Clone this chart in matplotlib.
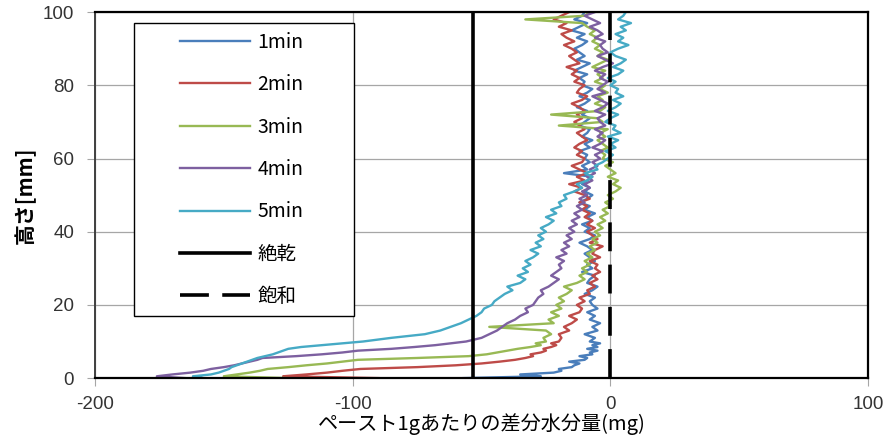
import matplotlib
matplotlib.use("Agg")
import matplotlib.pyplot as plt
from matplotlib.patches import Rectangle

plt.rcParams['font.family'] = ['Noto Sans CJK JP', 'DejaVu Sans']
plt.rcParams['axes.unicode_minus'] = False

# heights [mm]: 0.5 mm steps up to 10, then 1 mm steps
heights = [i * 0.5 for i in range(21)] + list(range(11, 101))

# difference in water content per 1 g of paste [mg]
min1 = [-57, -27, -35, -22, -19, -20, -15, -14, -12, -16, -10, -9, -12, -7, -8, -5, -9, -5, -7, -4, -8,
        -6, -10, -5, -7, -4, -8, -6, -9, -5, -7,
        -8, -6, -10, -7, -5, -9, -8, -6, -11, -7,
        -9, -6, -8, -10, -7, -9, -12, -8, -6, -10,
        -8, -11, -7, -9, -6, -10, -8, -12, -9, -7,
        -10, -8, -11, -9, -7, -18, -9, -11, -8, -10,
        -9, -12, -8, -10, -7, -11, -9, -8, -12, -10,
        -8, -11, -9, -13, -10, -8, -12, -9, -7, -11,
        -10, -12, -9, -14, -11, -8, -13, -10, -12, -14,
        -11, -9, -13, -10, -15, -12, -9, -14, -11, -10]
min2 = [-90, -127, -118, -110, -104, -97, -75, -60, -50, -43, -37, -33, -30, -31, -27, -25, -26, -23, -21, -23, -20,
        -19, -20, -16, -18, -15, -13, -16, -12, -11, -13,
        -10, -12, -8, -9, -6, -8, -5, -7, -4, -6,
        -5, -8, -4, -7, -6, -3, -8, -5, -7, -9,
        -6, -9, -7, -10, -8, -11, -9, -12, -8, -10,
        -14, -11, -16, -10, -13, -9, -12, -15, -11, -10,
        -13, -11, -14, -12, -9, -11, -13, -10, -12, -14,
        -11, -13, -10, -12, -15, -11, -9, -13, -12, -10,
        -14, -12, -15, -13, -17, -12, -14, -16, -13, -15,
        -18, -14, -17, -19, -15, -20, -17, -22, -19, -16]
min3 = [-125, -150, -145, -140, -136, -133, -125, -118, -110, -104, -98, -75, -55, -48, -44, -40, -36, -31, -27, -29, -25,
        -26, -23, -25, -47, -22, -24, -20, -23, -19, -21,
        -18, -20, -17, -15, -18, -13, -10, -12, -9, -11,
        -8, -10, -7, -9, -6, -8, -5, -7, -4, -6,
        -3, -5, -2, -4, -1, -3, 0, -2, 1, -1,
        2, 4, 1, 3, -1, 2, 0, -2, 1, -3,
        -2, -4, -1, -3, -5, -2, -4, -1, -20, -3,
        -5, -23, -4, -2, -6, -3, -5, -1, -4, -2,
        -6, -3, -5, -2, -7, -4, -1, -5, -3, -6,
        -4, -7, -5, -8, -6, -9, -11, -33, -10, -8]
min4 = [-165, -176, -170, -163, -158, -155, -150, -146, -143, -140, -137, -135, -122, -112, -104, -98, -85, -76, -68, -62, -56,
        -50, -47, -44, -42, -40, -37, -35, -32, -33, -30,
        -29, -28, -26, -27, -24, -22, -20, -23, -21, -19,
        -20, -18, -21, -17, -19, -16, -18, -15, -17, -14,
        -16, -13, -15, -12, -14, -11, -13, -10, -12, -9,
        -11, -8, -10, -7, -9, -6, -8, -5, -7, -4,
        -6, -3, -7, -4, -2, -5, -3, -6, -2, -4,
        -5, -2, -6, -3, -1, -4, -7, -2, -5, -3,
        -1, -4, -2, -6, -3, 1, -2, -5, -1, -3,
        -4, -2, -6, -3, -5, -8, -4, -7, -10, -6]
min5 = [-158, -162, -155, -152, -150, -148, -147, -145, -143, -141, -139, -137, -134, -131, -129, -127, -125, -120, -112, -104, -96,
        -85, -72, -66, -62, -58, -55, -52, -50, -49, -46,
        -45, -43, -41, -38, -40, -35, -33, -36, -32, -34,
        -31, -33, -30, -28, -31, -27, -29, -26, -28, -25,
        -27, -24, -22, -25, -21, -23, -19, -20, -17, -18,
        -14, -11, -13, -9, -7, -10, -5, -6, -3, -1,
        1, -2, 2, 0, 3, -1, 4, 1, 2, -2,
        0, 3, -1, 2, 4, 1, 5, 2, 3, 0,
        2, -1, 3, 5, 1, 4, 6, 2, 0, 3,
        7, 3, 5, 2, 6, 4, 8, 3, 5, 6]

series = [min1, min2, min3, min4, min5]
labels = ['1min', '2min', '3min', '4min', '5min']
colors = ['#4a7ebb', '#be4b48', '#98b954', '#7d60a0', '#46aac5']

dry_x = -53.5   # 絶乾
sat_x = 0       # 飽和
line_y = [0, 100]

fig = plt.figure(figsize=(8.83, 4.48), dpi=100)
ax = fig.add_axes([0.1076, 0.156, 0.8755, 0.817])

for vals, lab, col in zip(series, labels, colors):
    ax.plot(vals, heights, color=col, lw=1.7, label=lab)

ax.plot([dry_x, dry_x], line_y, color='black', lw=2.6, label='絶乾')
ax.plot([sat_x, sat_x], line_y, color='black', lw=2.6, dashes=(8, 3.7), label='飽和')

ax.set_xlim(-200, 100)
ax.set_ylim(0, 100)
ax.set_xticks([-200, -100, 0, 100])
ax.set_yticks([0, 20, 40, 60, 80, 100])
ax.grid(True, color='#a6a6a6', lw=0.9)
ax.set_axisbelow(True)
ax.tick_params(direction='out', length=6, color='#a6a6a6', labelsize=13.5,
               labelcolor='#333333')
ax.tick_params(axis='x', pad=7)
ax.tick_params(axis='y', pad=9)
for t in ax.get_xticklabels() + ax.get_yticklabels():
    t.set_fontfamily('Liberation Sans')
for s in ['top', 'right', 'bottom']:
    ax.spines[s].set_color('black')
    ax.spines[s].set_linewidth(1.6)
ax.spines['left'].set_color('#404040')
ax.spines['left'].set_linewidth(1.4)

ax.set_xlabel('ペースト1gあたりの差分水分量(mg)', fontsize=14.5, labelpad=0)
ax.set_ylabel('高さ[mm]', fontsize=15, fontweight='bold', labelpad=5)

box = Rectangle((0.05, 0.17), 0.285, 0.80, transform=ax.transAxes,
                facecolor='white', edgecolor='black', lw=1.0, zorder=5)
ax.add_patch(box)
leg = ax.legend(loc='center', bbox_to_anchor=(0.19, 0.57), frameon=False,
                fontsize=14, handlelength=3.6, handletextpad=0.36,
                labelspacing=1.1)
leg.set_zorder(6)

fig.savefig('out.png', dpi=100)
